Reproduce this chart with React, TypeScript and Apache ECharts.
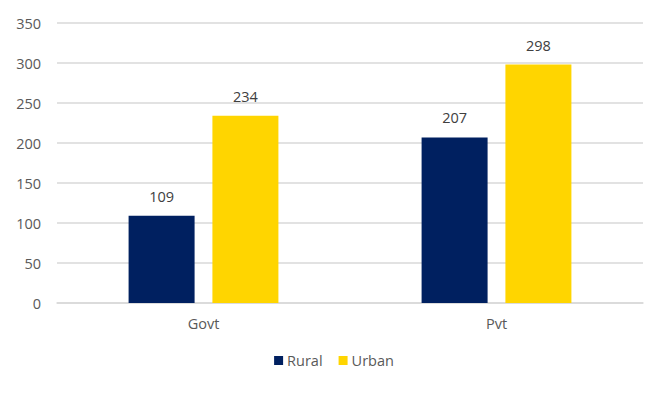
import React, { useEffect, useRef } from "react";
import * as echarts from "echarts";

const categories = ["Govt", "Pvt"];
const rural = [109, 207];
const urban = [234, 298];
const seriesNames = ["Rural", "Urban"];

export default function App() {
  const ref = useRef<HTMLDivElement>(null);
  useEffect(() => {
    const chart = echarts.init(ref.current!, null, { renderer: "svg" });
    const font = "Open Sans";
    const labelCfg = {
      show: true,
      position: "top" as const,
      distance: 12,
      color: "#404040",
      fontSize: 14.5,
      fontFamily: font,
    };
    chart.setOption({
      animation: false,
      backgroundColor: "#ffffff",
      textStyle: { fontFamily: font },
      grid: { left: 57, right: 25, top: 23, bottom: 90, containLabel: false },
      legend: {
        data: seriesNames,
        bottom: 20,
        left: "center",
        itemWidth: 9,
        itemHeight: 9,
        itemGap: 16,
        icon: "rect",
        textStyle: { color: "#595959", fontSize: 14.5, fontFamily: font, padding: [0, 0, 0, -1] },
      },
      xAxis: {
        type: "category",
        data: categories,
        axisLine: { lineStyle: { color: "#d9d9d9", width: 1.5 } },
        axisTick: { show: false },
        axisLabel: { color: "#595959", fontSize: 14.5, margin: 13, fontFamily: font },
      },
      yAxis: {
        type: "value",
        min: 0,
        max: 350,
        interval: 50,
        axisLine: { show: false },
        axisTick: { show: false },
        axisLabel: { color: "#595959", fontSize: 14.5, margin: 16, fontFamily: font },
        splitLine: { lineStyle: { color: "#d9d9d9", width: 1.5 } },
      },
      series: [
        {
          name: seriesNames[0],
          type: "bar",
          data: rural,
          barWidth: 66,
          barGap: "27%",
          itemStyle: { color: "#002060" },
          label: labelCfg,
        },
        {
          name: seriesNames[1],
          type: "bar",
          data: urban,
          barWidth: 66,
          itemStyle: { color: "#FFD500" },
          label: labelCfg,
        },
      ],
    });
    return () => chart.dispose();
  }, []);
  return <div ref={ref} style={{ width: 668, height: 393, margin: -8 }} />;
}
